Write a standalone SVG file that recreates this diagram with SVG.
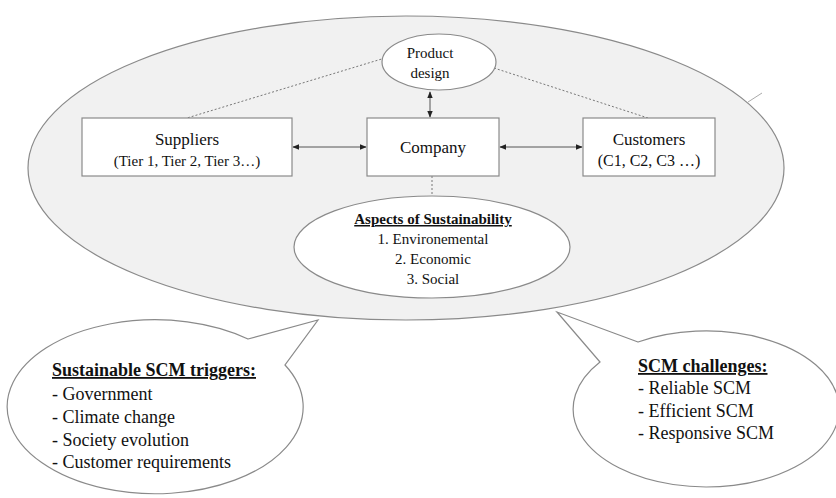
<svg xmlns="http://www.w3.org/2000/svg" width="836" height="498" viewBox="0 0 836 498" font-family="'Liberation Serif', 'DejaVu Serif', serif">
<defs>
<style>
.sh{stroke:#8a8a8a;stroke-width:1.2}
.box{fill:#fff;stroke:#8a8a8a;stroke-width:1.2}
.t{fill:#111}
.c{text-anchor:middle}
.dot{stroke:#777;stroke-width:1;stroke-dasharray:2,2;fill:none}
.arr{stroke:#555;stroke-width:1;fill:none;marker-start:url(#ah);marker-end:url(#ah)}
</style>
<marker id="ah" viewBox="0 0 10 10" refX="9" refY="5" markerWidth="7" markerHeight="7" orient="auto-start-reverse" markerUnits="userSpaceOnUse">
<path d="M0,1 L10,5 L0,9 z" fill="#222"/>
</marker>
</defs>
<rect width="836" height="498" fill="#fff"/>
<g id="scope">
<ellipse cx="406" cy="168" rx="378" ry="152" fill="#f1f1f1" class="sh"/>
<line x1="748" y1="102" x2="762" y2="93" stroke="#aaa" stroke-width="1"/>
</g>
<g id="connectors">
<line class="dot" x1="385" y1="58" x2="187" y2="118"/>
<line class="dot" x1="494" y1="68" x2="648" y2="118"/>
<line class="dot" x1="432" y1="176" x2="432" y2="197"/>
<line class="arr" x1="430" y1="92" x2="430" y2="117"/>
<line class="arr" x1="293" y1="147" x2="366" y2="147"/>
<line class="arr" x1="500" y1="147" x2="582" y2="147"/>
</g>
<g id="product-design">
<ellipse cx="439" cy="62" rx="57" ry="28" class="box"/>
<text class="t c" x="430" y="58" font-size="15">Product</text>
<text class="t c" x="430" y="78" font-size="15">design</text>
</g>
<g id="suppliers">
<rect x="82" y="118" width="210" height="58" class="box"/>
<text class="t c" x="187" y="145" font-size="17">Suppliers</text>
<text class="t c" x="187" y="166" font-size="15">(Tier 1, Tier 2, Tier 3…)</text>
</g>
<g id="company">
<rect x="367" y="118" width="132" height="58" class="box"/>
<text class="t c" x="433" y="153" font-size="17">Company</text>
</g>
<g id="customers">
<rect x="583" y="118" width="132" height="58" class="box"/>
<text class="t c" x="649" y="145" font-size="17">Customers</text>
<text class="t c" x="649" y="166" font-size="16">(C1, C2, C3 …)</text>
</g>
<g id="aspects">
<ellipse cx="432" cy="247" rx="138" ry="51" class="box"/>
<text class="t c" x="433" y="224" font-size="15" font-weight="bold" text-decoration="underline">Aspects of Sustainability</text>
<text class="t c" x="433" y="244" font-size="15">1. Environemental</text>
<text class="t c" x="433" y="264" font-size="15">2. Economic</text>
<text class="t c" x="433" y="284" font-size="15">3. Social</text>
</g>
<g id="triggers">
<path class="box" d="M248,339 L318,320 L285,365 A148,87 0 1,1 248,339 Z"/>
<text class="t" x="52" y="376" font-size="18" font-weight="bold" text-decoration="underline">Sustainable SCM triggers:</text>
<text class="t" x="52" y="400" font-size="18">- Government</text>
<text class="t" x="52" y="423" font-size="18">- Climate change</text>
<text class="t" x="52" y="446" font-size="18">- Society evolution</text>
<text class="t" x="52" y="468" font-size="18">- Customer requirements</text>
</g>
<g id="challenges">
<path class="box" d="M638,342 L557,312 L600,362 A133,78 0 1,0 638,342 Z"/>
<text class="t" x="638" y="372" font-size="18" font-weight="bold" text-decoration="underline">SCM challenges:</text>
<text class="t" x="638" y="394" font-size="18">- Reliable SCM</text>
<text class="t" x="638" y="417" font-size="18">- Efficient SCM</text>
<text class="t" x="638" y="439" font-size="18">- Responsive SCM</text>
</g>
</svg>
